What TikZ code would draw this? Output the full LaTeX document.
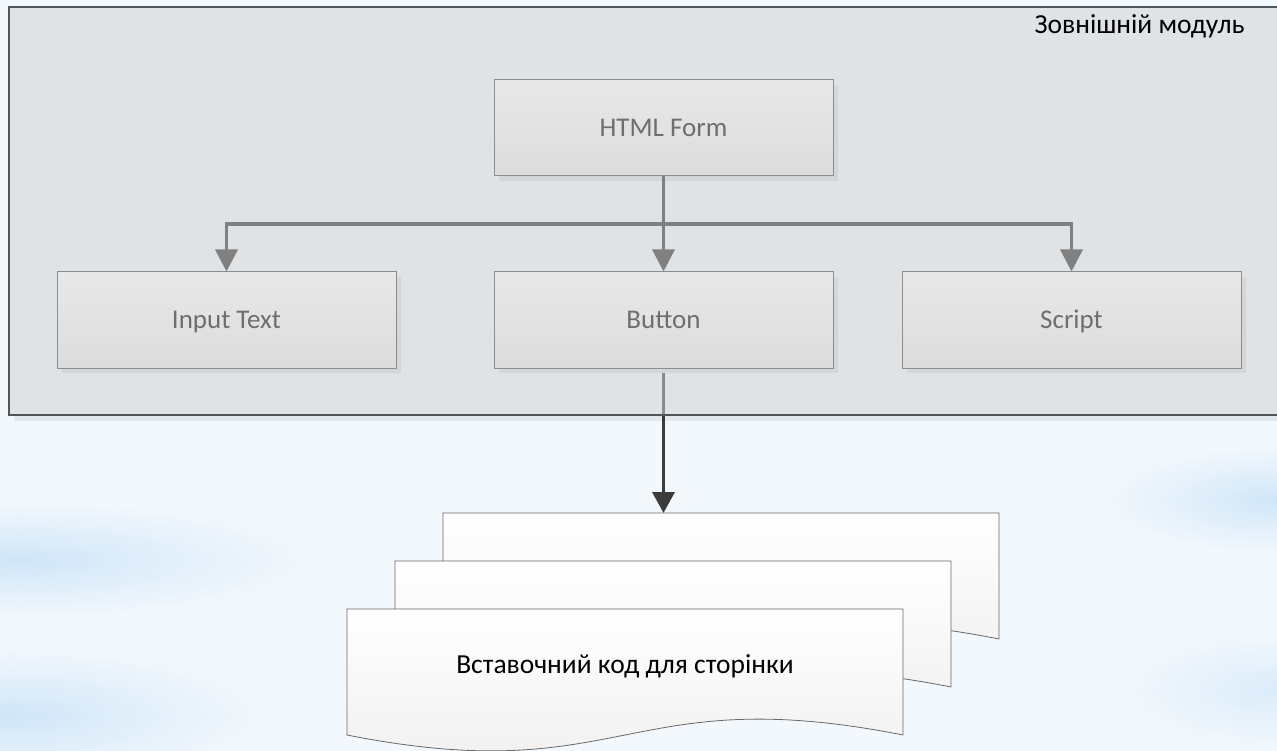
\documentclass[tikz,border=0pt]{standalone}
\usepackage{fontspec}
\setmainfont{Carlito}
\usetikzlibrary{arrows.meta,shadows}

\definecolor{skybg}{RGB}{243,248,253}
\definecolor{skyblue}{RGB}{208,230,248}
\definecolor{framefill}{RGB}{208,210,211}
\definecolor{frameedge}{RGB}{78,86,90}
\definecolor{boxtop}{RGB}{232,232,232}
\definecolor{boxbot}{RGB}{220,220,220}
\definecolor{boxedge}{RGB}{140,140,140}
\definecolor{boxtext}{RGB}{110,110,110}
\definecolor{boxshade}{RGB}{212,214,216}
\definecolor{linkgray}{RGB}{128,128,128}
\definecolor{linkdark}{RGB}{60,60,60}
\definecolor{pagebot}{RGB}{238,238,238}
\definecolor{pageedge}{RGB}{105,105,105}

\pgfdeclarelayer{back}
\pgfdeclarelayer{under}
\pgfsetlayers{back,under,main}

\tikzset{
  page/.pic={
    \draw [draw=pageedge, line width=0.8pt, top color=white, bottom color=pagebot]
      (0,0) -- (556,0) -- (556,126) .. controls (278,71) and (278,181) .. (0,126) -- cycle;
    \coordinate (-top) at (0,0);
  }
}

\begin{document}
\begin{tikzpicture}[x=1pt,y=-1pt,
  blk/.style={draw=boxedge, line width=1pt, top color=boxtop, bottom color=boxbot,
    minimum width=339pt, minimum height=96pt, inner sep=0pt, text=boxtext,
    text height=18pt, text depth=0pt, font=\fontsize{27}{32}\selectfont,
    drop shadow={shadow xshift=5pt, shadow yshift=-5pt, fill=boxshade, opacity=1}},
  link/.style={draw=linkgray, line width=3.5pt, -{Triangle[length=22pt,width=22pt]}},
  darklink/.style={draw=linkdark, line width=3.5pt, -{Triangle[length=21pt,width=22pt]}}]
\useasboundingbox (0,0) rectangle (1277,751);

\begin{pgfonlayer}{back}
\fill [skybg] (0,0) rectangle (1277,751);
\shade [inner color=skyblue, outer color=skybg] (20,560) ellipse (300 and 60);
\shade [inner color=skyblue, outer color=skybg] (10,715) ellipse (260 and 70);
\shade [inner color=skyblue, outer color=skybg] (1277,500) ellipse (180 and 55);
\shade [inner color=skyblue!70!skybg, outer color=skybg] (1277,690) ellipse (160 and 60);
\end{pgfonlayer}

\begin{pgfonlayer}{under}
\fill [black, opacity=0.06] (14,415) rectangle (1285,421);
\fill [framefill, fill opacity=0.53] (9,7) rectangle (1285,415);
\draw [frameedge, line width=1.2pt] (9,7) rectangle (1285,415);
\end{pgfonlayer}

\node [anchor=base east, font=\fontsize{27.5}{32}\selectfont] (modtitle) at (1248,34) {Зовнішній модуль};

\node [blk] (form) at (663.5,128) {HTML Form};
\node [blk] (input) at (226.5,320) {Input Text};
\node [blk] (button) at (663.5,320) {Button};
\node [blk] (script) at (1071.5,320) {Script};

\coordinate (fork) at (663.5,224);
\draw [link] (form.south) -- (fork) -| (input.north);
\draw [link] (fork) -| (script.north);
\draw [link] (form.south) -- (button.north);

\pic (back) at (443,513) {page};
\pic (mid) at (395,561) {page};
\pic (front) at (347,609) {page};
\node [font=\fontsize{27.5}{32}\selectfont] (code) at (625,666) {Вставочний код для сторінки};

\begin{pgfonlayer}{back}
\draw [darklink] (button.south) -- (button.south |- back-top);
\end{pgfonlayer}
\end{tikzpicture}
\end{document}
